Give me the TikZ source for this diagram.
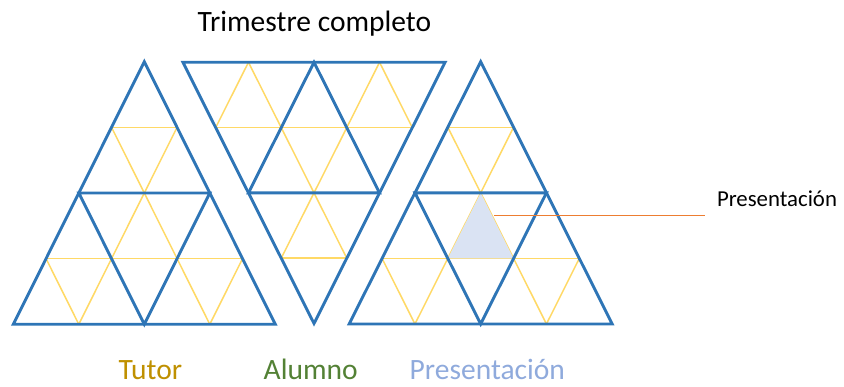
\documentclass[tikz,border=0pt]{standalone}
\usepackage{fontspec}
\setmainfont{Carlito}
\usetikzlibrary{calc}
\definecolor{tblue}{HTML}{2E75B6}
\definecolor{tyellow}{HTML}{FFD966}
\definecolor{tfill}{HTML}{DAE3F3}
\definecolor{torange}{HTML}{ED7D31}
\definecolor{ttutor}{HTML}{BF9000}
\definecolor{talumno}{HTML}{538135}
\definecolor{tpres}{HTML}{8FAADC}
\tikzset{
  ygrid/.style={draw=tyellow, line width=1.5pt},
  bgrid/.style={draw=tblue, line width=2.9pt, line join=miter},
  shade/.style={fill=tfill, draw=none},
  leader/.style={draw=torange, line width=1.5pt},
  bigtext/.style={font=\fontsize{29.5}{34}\selectfont, inner sep=0pt},
  smalltext/.style={font=\fontsize{22.8}{27}\selectfont, inner sep=0pt}
}
\newcommand\yellowgrid[3]{%
  \foreach \f in {0.25,0.5,0.75}{%
    \draw[ygrid] ($(#1)!\f!(#2)$) -- ($(#1)!\f!(#3)$);
    \draw[ygrid] ($(#2)!\f!(#1)$) -- ($(#2)!\f!(#3)$);
    \draw[ygrid] ($(#3)!\f!(#1)$) -- ($(#3)!\f!(#2)$);
  }}
\newcommand\bluegrid[3]{%
  \draw[bgrid] (#1) -- (#2) -- (#3) -- cycle;
  \draw[bgrid] ($(#1)!0.5!(#2)$) -- ($(#2)!0.5!(#3)$) -- ($(#3)!0.5!(#1)$) -- cycle;
}
\begin{document}
\begin{tikzpicture}[x=1pt,y=-1pt]
\useasboundingbox (0,0) rectangle (844,387);
% triangle A (upright)
\coordinate (a1) at (144.3,61.7);
\coordinate (a2) at (13.3,324.3);
\coordinate (a3) at (275.3,324.3);
% triangle B (inverted)
\coordinate (b1) at (314.0,323.5);
\coordinate (b2) at (182.9,62.3);
\coordinate (b3) at (445.1,62.3);
% triangle C (upright)
\coordinate (c1) at (480.7,61.7);
\coordinate (c2) at (349.2,324.0);
\coordinate (c3) at (612.2,324.0);
\coordinate (cm) at ($(c2)!0.5!(c3)$);
% yellow grids
\yellowgrid{a1}{a2}{a3}
\yellowgrid{b1}{b2}{b3}
\yellowgrid{c1}{c2}{c3}
% shaded triangle
\coordinate (l3a) at ($(c1)!0.75!(c2)$);
\coordinate (l3b) at ($(c1)!0.75!(c3)$);
\coordinate (sL) at ($(l3a)!1/3!(l3b)$);
\coordinate (sR) at ($(l3a)!2/3!(l3b)$);
\coordinate (sT) at ($(c1)!0.5!(cm)$);
\fill[shade] (sT) -- (sL) -- (sR) -- cycle;
% blue grids
\bluegrid{a1}{a2}{a3}
\bluegrid{b1}{b2}{b3}
\bluegrid{c1}{c2}{c3}
% leader line and label
\coordinate (ostart) at (494,215.5);
\coordinate (oend) at (705,215.5);
\draw[leader] (ostart) -- (oend);
\node[smalltext, anchor=base west] (plabel) at (716.8,206.7) {Presentación};
% title
\node[bigtext, anchor=base] (title) at (314.3,31.7) {Trimestre completo};
% legend
\node[bigtext, anchor=base west, text=ttutor] (tutor) at (118.5,380) {Tutor};
\node[bigtext, anchor=base west, text=talumno] (alumno) at (263.5,380) {Alumno};
\node[bigtext, anchor=base west, text=tpres] (pres) at (409.5,380) {Presentación};
\end{tikzpicture}
\end{document}
